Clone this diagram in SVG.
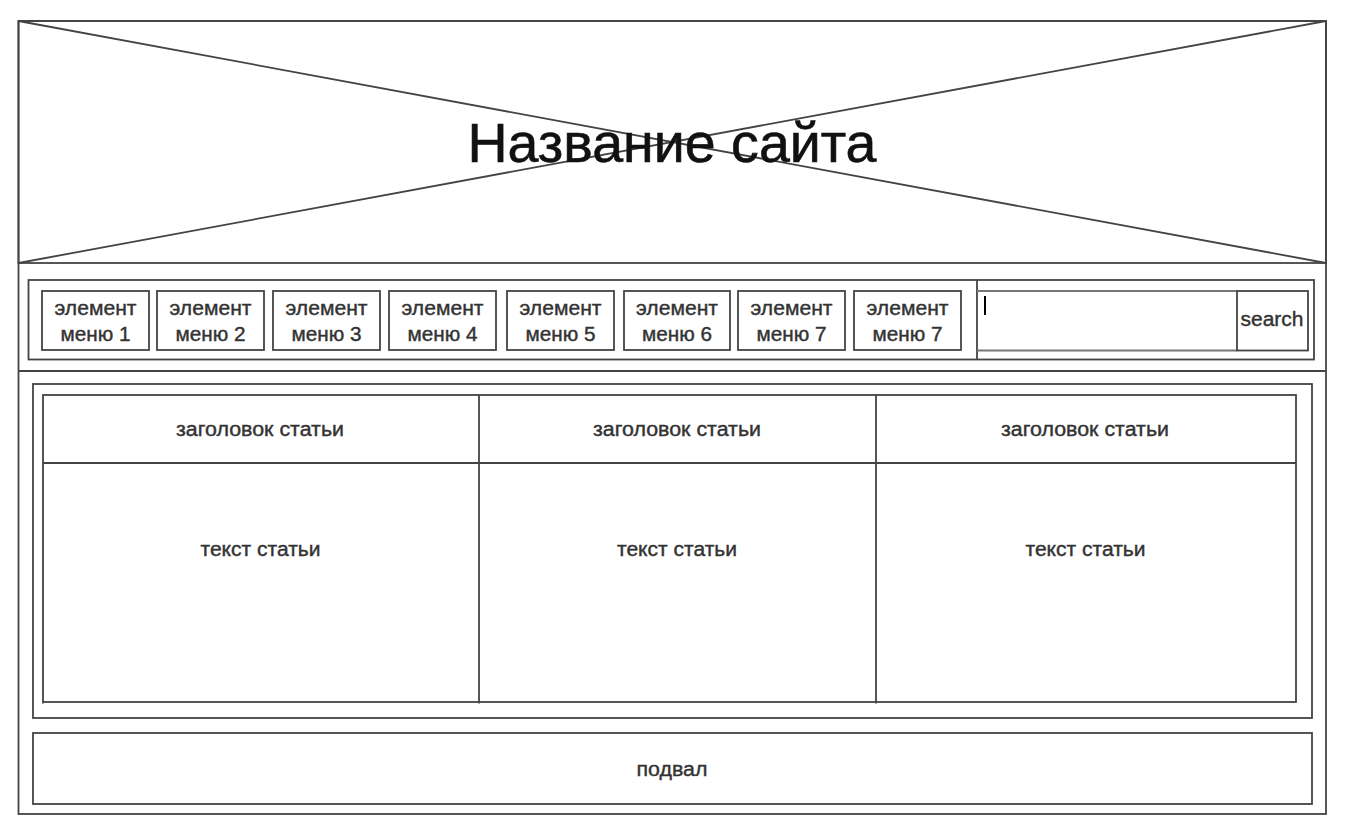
<svg xmlns="http://www.w3.org/2000/svg" width="1355" height="835" viewBox="0 0 1355 835">
<style>
.b{fill:none;stroke:#444;stroke-width:1.8}
.g{fill:none;stroke:#777;stroke-width:1.8}
.t{font-family:"Liberation Sans",Arial,sans-serif;font-size:20px;fill:#333;stroke:#333;stroke-width:0.4;text-anchor:middle}
.h{font-family:"Liberation Sans",Arial,sans-serif;font-size:55px;fill:#111;stroke:#111;stroke-width:0.6;text-anchor:middle}
</style>
<rect width="1355" height="835" fill="#fff"/>
<g id="frame">
<rect class="b" x="18.5" y="21" width="1307.5" height="793"/>
<line class="b" x1="18.5" y1="371" x2="1326" y2="371"/>
</g>
<g id="header">
<rect class="b" x="18.5" y="21" width="1307.5" height="242"/>
<line class="b" x1="18.5" y1="21" x2="1326" y2="263"/>
<line class="b" x1="18.5" y1="263" x2="1326" y2="21"/>
<text class="h" x="672" y="162" textLength="409" lengthAdjust="spacingAndGlyphs">Название сайта</text>
</g>
<g id="nav">
<rect class="b" x="28.5" y="280" width="1285.5" height="79.5"/>
<line class="b" x1="977" y1="280" x2="977" y2="359.5"/>
</g>
<g id="menu1"><rect class="b" x="42" y="291" width="107" height="59"/><text class="t" x="95.5" y="315" textLength="82" lengthAdjust="spacingAndGlyphs">элемент</text><text class="t" x="95.5" y="341" textLength="70" lengthAdjust="spacingAndGlyphs">меню 1</text></g>
<g id="menu2"><rect class="b" x="157" y="291" width="107" height="59"/><text class="t" x="210.5" y="315" textLength="82" lengthAdjust="spacingAndGlyphs">элемент</text><text class="t" x="210.5" y="341" textLength="70" lengthAdjust="spacingAndGlyphs">меню 2</text></g>
<g id="menu3"><rect class="b" x="273" y="291" width="107" height="59"/><text class="t" x="326.5" y="315" textLength="82" lengthAdjust="spacingAndGlyphs">элемент</text><text class="t" x="326.5" y="341" textLength="70" lengthAdjust="spacingAndGlyphs">меню 3</text></g>
<g id="menu4"><rect class="b" x="389" y="291" width="107" height="59"/><text class="t" x="442.5" y="315" textLength="82" lengthAdjust="spacingAndGlyphs">элемент</text><text class="t" x="442.5" y="341" textLength="70" lengthAdjust="spacingAndGlyphs">меню 4</text></g>
<g id="menu5"><rect class="b" x="507" y="291" width="107" height="59"/><text class="t" x="560.5" y="315" textLength="82" lengthAdjust="spacingAndGlyphs">элемент</text><text class="t" x="560.5" y="341" textLength="70" lengthAdjust="spacingAndGlyphs">меню 5</text></g>
<g id="menu6"><rect class="b" x="624" y="291" width="106" height="59"/><text class="t" x="677" y="315" textLength="82" lengthAdjust="spacingAndGlyphs">элемент</text><text class="t" x="677" y="341" textLength="70" lengthAdjust="spacingAndGlyphs">меню 6</text></g>
<g id="menu7"><rect class="b" x="738" y="291" width="107" height="59"/><text class="t" x="791.5" y="315" textLength="82" lengthAdjust="spacingAndGlyphs">элемент</text><text class="t" x="791.5" y="341" textLength="70" lengthAdjust="spacingAndGlyphs">меню 7</text></g>
<g id="menu8"><rect class="b" x="854" y="291" width="107" height="59"/><text class="t" x="907.5" y="315" textLength="82" lengthAdjust="spacingAndGlyphs">элемент</text><text class="t" x="907.5" y="341" textLength="70" lengthAdjust="spacingAndGlyphs">меню 7</text></g>
<g id="search-input">
<line class="g" x1="977" y1="291" x2="1237" y2="291"/>
<line class="g" x1="977" y1="350.5" x2="1237" y2="350.5"/>
<rect x="984" y="296" width="2" height="19" fill="#000"/>
</g>
<g id="search-button"><rect class="b" x="1237" y="291" width="71" height="59.5"/><text class="t" x="1272" y="325.5" textLength="63" lengthAdjust="spacingAndGlyphs">search</text></g>
<g id="content">
<rect class="b" x="33" y="384" width="1279" height="334"/>
<rect class="b" x="43" y="395" width="1253" height="307"/>
<line class="b" x1="43" y1="463" x2="1296" y2="463"/>
<line class="b" x1="479" y1="395" x2="479" y2="703.5"/>
<line class="b" x1="876" y1="395" x2="876" y2="703.5"/>
<line class="b" x1="43" y1="702" x2="43" y2="703.5"/>
</g>
<g id="article1"><text class="t" x="260" y="436" textLength="168" lengthAdjust="spacingAndGlyphs">заголовок статьи</text><text class="t" x="260.5" y="556" textLength="120" lengthAdjust="spacingAndGlyphs">текст статьи</text></g>
<g id="article2"><text class="t" x="677" y="436" textLength="168" lengthAdjust="spacingAndGlyphs">заголовок статьи</text><text class="t" x="677" y="556" textLength="120" lengthAdjust="spacingAndGlyphs">текст статьи</text></g>
<g id="article3"><text class="t" x="1085" y="436" textLength="168" lengthAdjust="spacingAndGlyphs">заголовок статьи</text><text class="t" x="1085.5" y="556" textLength="120" lengthAdjust="spacingAndGlyphs">текст статьи</text></g>
<g id="footer"><rect class="b" x="33" y="733" width="1279" height="71"/><text class="t" x="672" y="776" textLength="71" lengthAdjust="spacingAndGlyphs">подвал</text></g>
<g id="connectors"></g>
</svg>
